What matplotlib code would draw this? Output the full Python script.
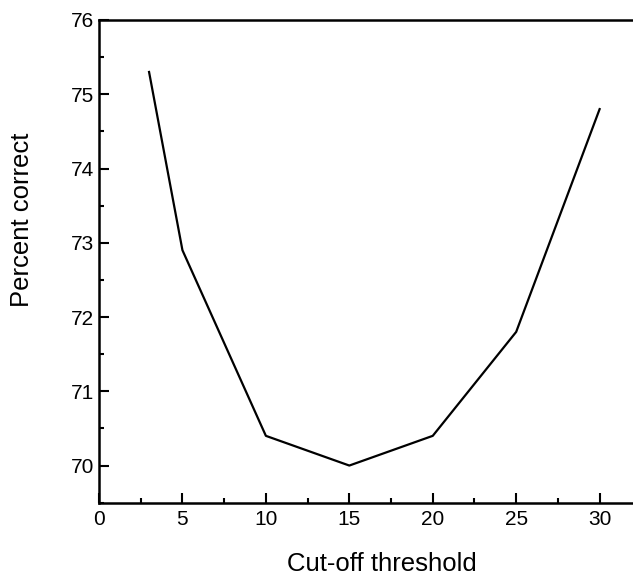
import matplotlib
matplotlib.use("Agg")
import matplotlib.pyplot as plt
from matplotlib.ticker import MultipleLocator

plt.rcParams['font.family'] = ['Liberation Sans', 'DejaVu Sans']

threshold = [3, 5, 10, 15, 20, 25, 30]
percent_correct = [75.3, 72.9, 70.4, 70.0, 70.4, 71.8, 74.8]

fig = plt.figure(figsize=(6.33, 5.76), dpi=100)
ax = fig.add_axes([0.1564, 0.1273, 0.8436, 0.838])
ax.plot(threshold, percent_correct, color='black', linewidth=1.6)

ax.set_xlim(0, 32)
ax.set_ylim(69.5, 76)
ax.xaxis.set_major_locator(MultipleLocator(5))
ax.xaxis.set_minor_locator(MultipleLocator(2.5))
ax.yaxis.set_major_locator(MultipleLocator(1))
ax.yaxis.set_minor_locator(MultipleLocator(0.5))
ax.tick_params(which='major', direction='in', length=7, width=1.5, labelsize=15)
ax.tick_params(which='minor', direction='in', length=3.5, width=1.5)
ax.tick_params(axis='x', which='major', pad=5)
ax.tick_params(axis='y', which='major', pad=3.5)
ax.spines['right'].set_visible(False)
for s in ['left', 'bottom', 'top']:
    ax.spines[s].set_linewidth(1.8)

fig.text(382 / 633, (576 - 571) / 576, 'Cut-off threshold', fontsize=18.5,
         ha='center', va='baseline')
fig.text(22 / 633, (576 - 220) / 576, 'Percent correct', fontsize=18.5,
         ha='center', va='center', rotation=90)

fig.savefig('out.png', dpi=100)
